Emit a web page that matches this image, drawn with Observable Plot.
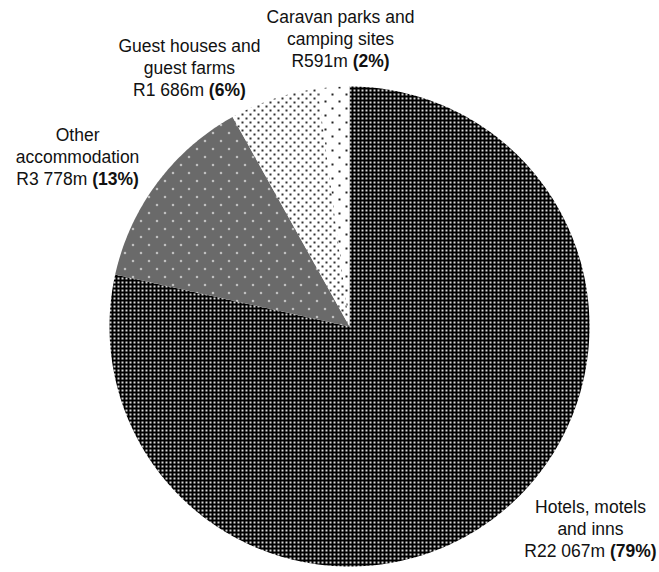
<!DOCTYPE html>
<html><head><meta charset="utf-8">
<script src="https://cdn.jsdelivr.net/npm/d3@7"></script>
<script src="https://cdn.jsdelivr.net/npm/@observablehq/plot@0.6"></script>
<style>body{margin:0;background:#fff} #chart svg{display:block}</style>
</head><body>
<svg width="0" height="0" style="position:absolute">
<defs>
<pattern id="pHotels" patternUnits="userSpaceOnUse" width="4" height="4">
<rect width="4" height="4" fill="#000"/><rect x="1" y="1" width="2" height="2" fill="#d8d8d8"/>
</pattern>
<pattern id="pChecker" patternUnits="userSpaceOnUse" width="2" height="2">
<rect width="2" height="2" fill="#d4d4d4"/><rect width="1" height="1" fill="#000"/><rect x="1" y="1" width="1" height="1" fill="#000"/>
</pattern>
<pattern id="pOther" patternUnits="userSpaceOnUse" width="16" height="16">
<rect width="16" height="16" fill="url(#pChecker)"/>
<rect x="3" y="4" width="3" height="1" fill="#fff"/><rect x="4" y="3" width="1" height="3" fill="#fff"/>
<rect x="11" y="12" width="3" height="1" fill="#fff"/><rect x="12" y="11" width="1" height="3" fill="#fff"/>
</pattern>
<pattern id="pGuest" patternUnits="userSpaceOnUse" width="8" height="8">
<rect width="8" height="8" fill="#fff"/>
<rect x="1" y="1" width="2" height="2" fill="#333"/><rect x="5" y="5" width="2" height="2" fill="#333"/>
</pattern>
<pattern id="pCaravan" patternUnits="userSpaceOnUse" width="14" height="14">
<rect width="14" height="14" fill="#fff"/>
<rect x="2" y="2" width="2" height="2" fill="#222"/><rect x="9" y="9" width="2" height="2" fill="#222"/>
</pattern>
</defs>
</svg>
<div id="chart"></div>
<script>
// ---- data ----
const categories = ["Hotels, motels and inns", "Other accommodation", "Guest houses and guest farms", "Caravan parks and camping sites"];
const values = [22067, 3778, 1686, 591]; // R million
const valueLabels = ["R22 067m", "R3 778m", "R1 686m", "R591m"];
const percentLabels = ["(79%)", "(13%)", "(6%)", "(2%)"];
const nameLines = ["Hotels, motels\nand inns", "Other\naccommodation", "Guest houses and\nguest farms", "Caravan parks and\ncamping sites"];

// ---- styling / layout ----
const fills = ["url(#pHotels)", "url(#pOther)", "url(#pGuest)", "url(#pCaravan)"];
const W = 659, H = 572, CX = 349, CY = 326, R = 240;
// label anchor in pie-radius units (x right, y up from centre)
const labelAt = [[1.004, -0.8375], [-1.133, 0.7125], [-0.667, 1.083], [-0.0375, 1.204]];

const total = d3.sum(values);
let acc = 0;
const slices = values.map((v, i) => {
  const a0 = acc / total * 2 * Math.PI;
  acc += v;
  const a1 = acc / total * 2 * Math.PI;
  const n = Math.max(2, Math.ceil((a1 - a0) / (Math.PI / 360)));
  const pts = [{x: 0, y: 0}];
  for (let k = 0; k <= n; k++) {
    const t = a0 + (a1 - a0) * k / n;
    pts.push({x: Math.sin(t), y: Math.cos(t)});
  }
  return {name: categories[i], fill: fills[i], points: pts};
});

const labels = categories.map((c, i) => ({
  x: labelAt[i][0], y: labelAt[i][1],
  text: nameLines[i] + "\n" + valueLabels[i] + " " + percentLabels[i]
}));

const plot = Plot.plot({
  width: W, height: H, margin: 0,
  style: {fontFamily: "'Liberation Sans', Arial, sans-serif", background: "#fff"},
  x: {domain: [-CX / R, (W - CX) / R], axis: null},
  y: {domain: [-(H - CY) / R, CY / R], axis: null},
  marks: [
    ...slices.map(s => Plot.line(s.points, {x: "x", y: "y", fill: s.fill, stroke: "none"})),
    Plot.text(labels, {x: "x", y: "y", text: "text", fontSize: 17.5, lineHeight: 1.26,
      lineAnchor: "middle", textAnchor: "middle", fill: "#111"})
  ]
});

// bold percentage part
plot.querySelectorAll("text tspan").forEach(ts => {
  const s = ts.textContent;
  const k = s.indexOf("(");
  if (k >= 0) {
    ts.textContent = s.slice(0, k);
    const b = document.createElementNS("http://www.w3.org/2000/svg", "tspan");
    b.setAttribute("font-weight", "bold");
    b.textContent = s.slice(k);
    ts.appendChild(b);
  }
});
document.getElementById("chart").appendChild(plot);
</script>
</body></html>
